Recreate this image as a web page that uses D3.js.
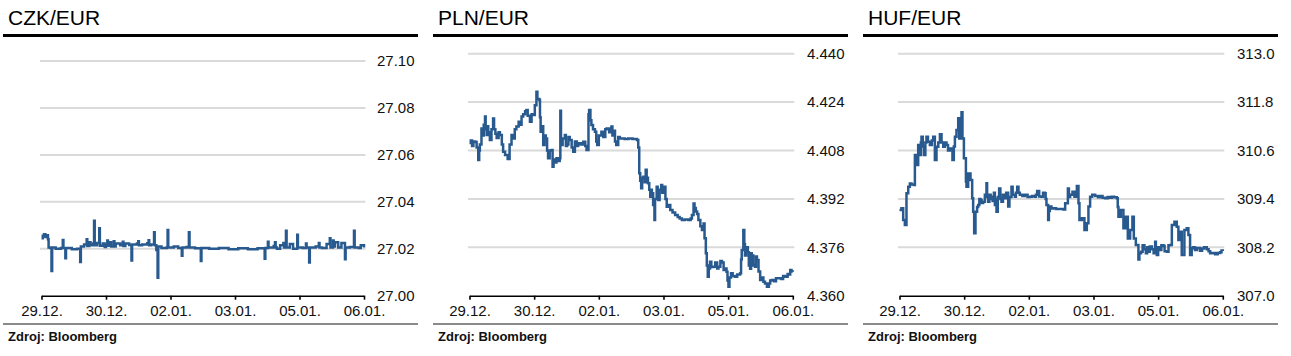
<!DOCTYPE html>
<html>
<head>
<meta charset="utf-8">
<script src="https://cdn.jsdelivr.net/npm/d3@7"></script>
<style>
  html, body { margin: 0; padding: 0; background: #fff; }
  svg { display: block; font-family: "Liberation Sans", Arial, sans-serif; }
</style>
</head>
<body>
<svg id="chart" width="1291" height="356"></svg>
<script>
// ---- data ----
const xTickLabels = ["29.12.", "30.12.", "02.01.", "03.01.", "05.01.", "06.01."];

const czkTicks = [27.00, 27.02, 27.04, 27.06, 27.08, 27.10];
const plnTicks = [4.360, 4.376, 4.392, 4.408, 4.424, 4.440];
const hufTicks = [307.0, 308.2, 309.4, 310.6, 311.8, 313.0];

// [trading-day position, rate]
const czkSeries = [
  [0.00,27.0245],[0.02,27.0255],[0.04,27.0262],[0.06,27.0250],[0.08,27.0258],[0.10,27.0240],[0.11,27.0205],
  [0.14,27.0203],[0.155,27.0105],[0.165,27.0205],[0.22,27.0200],[0.30,27.0203],[0.33,27.0237],[0.34,27.0203],
  [0.37,27.0160],[0.38,27.0203],[0.47,27.0198],[0.55,27.0200],[0.60,27.0144],[0.61,27.0210],[0.66,27.0218],
  [0.70,27.0240],[0.71,27.0212],[0.74,27.0228],[0.76,27.0215],[0.80,27.0222],[0.815,27.0319],[0.825,27.0215],
  [0.86,27.0225],[0.895,27.0287],[0.905,27.0213],[0.95,27.0222],[0.98,27.0208],[1.00,27.0215],[1.02,27.0235],
  [1.03,27.0213],[1.05,27.0228],[1.08,27.0210],[1.10,27.0212],[1.12,27.0232],[1.13,27.0210],[1.15,27.0222],
  [1.22,27.0215],[1.26,27.0230],[1.27,27.0212],[1.30,27.0222],[1.36,27.0216],[1.395,27.0150],[1.405,27.0218],
  [1.48,27.0222],[1.50,27.0232],[1.51,27.0215],[1.56,27.0218],[1.64,27.0224],[1.66,27.0236],[1.67,27.0215],
  [1.70,27.0218],[1.745,27.0270],[1.755,27.0215],[1.78,27.0195],[1.80,27.0077],[1.81,27.0210],[1.86,27.0203],
  [1.94,27.0205],[1.955,27.0280],[1.965,27.0205],[2.05,27.0210],[2.12,27.0203],[2.175,27.0170],[2.185,27.0205],
  [2.25,27.0208],[2.285,27.0270],[2.295,27.0205],[2.38,27.0202],[2.47,27.0148],[2.48,27.0203],[2.60,27.0200],
  [2.75,27.0203],[2.90,27.0198],[3.05,27.0202],[3.20,27.0198],[3.35,27.0202],[3.46,27.0157],[3.47,27.0203],
  [3.51,27.0230],[3.52,27.0205],[3.60,27.0212],[3.62,27.0228],[3.63,27.0205],[3.65,27.0200],[3.70,27.0215],
  [3.75,27.0225],[3.76,27.0205],[3.79,27.0277],[3.80,27.0205],[3.85,27.0220],[3.90,27.0200],[3.965,27.0260],
  [3.975,27.0205],[4.05,27.0203],[4.10,27.0222],[4.11,27.0205],[4.15,27.0141],[4.16,27.0205],[4.25,27.0210],
  [4.30,27.0225],[4.31,27.0205],[4.35,27.0203],[4.42,27.0220],[4.47,27.0245],[4.48,27.0205],[4.52,27.0235],
  [4.53,27.0210],[4.55,27.0228],[4.60,27.0205],[4.65,27.0225],[4.705,27.0155],[4.715,27.0205],[4.78,27.0208],
  [4.845,27.0277],[4.855,27.0205],[4.92,27.0203],[4.95,27.0215],[5.00,27.0205]
];

const plnSeries = [
  [0.00,4.4105],[0.02,4.4113],[0.04,4.4095],[0.06,4.4110],[0.09,4.4108],[0.11,4.4090],[0.135,4.4049],[0.15,4.4080],
  [0.16,4.4100],[0.185,4.4153],[0.20,4.4130],[0.22,4.4165],[0.24,4.4192],[0.25,4.4150],[0.265,4.4131],[0.28,4.4160],
  [0.29,4.4140],[0.315,4.4115],[0.34,4.4150],[0.365,4.4186],[0.38,4.4150],[0.40,4.4135],[0.42,4.4121],[0.45,4.4140],
  [0.47,4.4131],[0.50,4.4100],[0.52,4.4076],[0.55,4.4065],[0.59,4.4052],[0.62,4.4100],[0.65,4.4131],[0.68,4.4120],
  [0.70,4.4150],[0.725,4.4159],[0.76,4.4175],[0.78,4.4165],[0.805,4.4192],[0.83,4.4200],[0.86,4.4210],[0.88,4.4214],
  [0.90,4.4195],[0.935,4.4175],[0.96,4.4200],[0.985,4.4197],[1.01,4.4230],[1.035,4.4274],[1.05,4.4250],[1.08,4.4247],
  [1.09,4.4190],[1.10,4.4142],[1.12,4.4160],[1.14,4.4098],[1.16,4.4130],[1.18,4.4120],[1.20,4.4080],[1.215,4.4054],
  [1.24,4.4080],[1.27,4.4082],[1.285,4.4026],[1.30,4.4050],[1.32,4.4040],[1.345,4.4054],[1.37,4.4045],[1.395,4.4054],
  [1.405,4.4211],[1.415,4.4098],[1.44,4.4120],[1.475,4.4131],[1.49,4.4095],[1.51,4.4100],[1.53,4.4125],[1.55,4.4115],
  [1.58,4.4090],[1.605,4.4076],[1.63,4.4110],[1.66,4.4095],[1.68,4.4104],[1.72,4.4100],[1.76,4.4109],[1.79,4.4095],
  [1.81,4.4082],[1.84,4.4200],[1.85,4.4214],[1.87,4.4180],[1.885,4.4164],[1.91,4.4150],[1.94,4.4142],[1.96,4.4110],
  [1.975,4.4098],[2.00,4.4130],[2.04,4.4142],[2.07,4.4125],[2.10,4.4150],[2.12,4.4153],[2.16,4.4140],[2.195,4.4159],
  [2.21,4.4130],[2.23,4.4145],[2.25,4.4110],[2.27,4.4098],[2.30,4.4125],[2.325,4.4120],[2.40,4.4118],[2.455,4.4120],
  [2.52,4.4118],[2.59,4.4115],[2.61,4.4090],[2.625,4.4005],[2.64,4.3980],[2.655,4.3955],[2.67,4.3990],[2.69,4.3993],
  [2.71,4.3975],[2.725,4.4016],[2.74,4.3990],[2.76,4.3972],[2.78,4.3950],[2.795,4.3927],[2.81,4.3950],[2.82,4.3939],
  [2.84,4.3900],[2.86,4.3850],[2.87,4.3920],[2.895,4.3960],[2.91,4.3930],[2.92,4.3916],[2.94,4.3950],[2.965,4.3966],
  [2.98,4.3940],[3.00,4.3949],[3.015,4.3960],[3.03,4.3920],[3.05,4.3894],[3.08,4.3900],[3.105,4.3883],[3.14,4.3875],
  [3.18,4.3867],[3.22,4.3860],[3.25,4.3855],[3.285,4.3850],[3.33,4.3852],[3.385,4.3850],[3.42,4.3855],[3.44,4.3867],
  [3.465,4.3905],[3.48,4.3890],[3.50,4.3878],[3.52,4.3870],[3.54,4.3850],[3.57,4.3830],[3.595,4.3817],[3.62,4.3839],
  [3.635,4.3790],[3.655,4.3740],[3.67,4.3700],[3.685,4.3663],[3.70,4.3690],[3.72,4.3712],[3.74,4.3695],[3.77,4.3696],
  [3.80,4.3710],[3.83,4.3690],[3.85,4.3696],[3.88,4.3715],[3.905,4.3710],[3.93,4.3685],[3.95,4.3690],[3.975,4.3679],
  [3.99,4.3650],[4.005,4.3630],[4.02,4.3660],[4.045,4.3674],[4.07,4.3665],[4.105,4.3663],[4.14,4.3670],[4.185,4.3674],
  [4.20,4.3720],[4.21,4.3751],[4.235,4.3817],[4.25,4.3770],[4.26,4.3733],[4.28,4.3760],[4.305,4.3744],[4.32,4.3700],
  [4.34,4.3689],[4.355,4.3740],[4.365,4.3733],[4.39,4.3700],[4.415,4.3696],[4.43,4.3730],[4.445,4.3718],[4.47,4.3680],
  [4.495,4.3652],[4.52,4.3660],[4.545,4.3646],[4.57,4.3640],[4.60,4.3630],[4.63,4.3640],[4.65,4.3650],[4.675,4.3652],
  [4.71,4.3648],[4.74,4.3658],[4.78,4.3658],[4.82,4.3655],[4.85,4.3665],[4.88,4.3663],[4.92,4.3672],[4.94,4.3670],
  [4.96,4.3685],[4.98,4.3680],[5.00,4.3679]
];

const hufSeries = [
  [0.00,309.125],[0.03,309.17],[0.057,308.877],[0.083,308.753],[0.108,309.539],[0.135,309.703],[0.16,309.78],
  [0.186,309.76],[0.223,309.745],[0.238,310.49],[0.263,310.24],[0.289,310.737],[0.30,310.55],[0.315,310.49],
  [0.33,310.80],[0.34,310.94],[0.36,310.70],[0.377,310.49],[0.40,310.80],[0.417,310.94],[0.44,310.82],
  [0.47,310.737],[0.50,310.85],[0.521,310.94],[0.547,310.365],[0.572,310.69],[0.60,310.80],[0.625,311.00],
  [0.65,310.80],[0.676,310.69],[0.70,310.80],[0.727,310.737],[0.75,310.60],[0.779,310.65],[0.819,310.365],
  [0.84,310.70],[0.857,310.94],[0.881,311.11],[0.908,311.40],[0.923,310.90],[0.959,311.548],[0.974,310.90],
  [0.996,310.41],[1.027,309.83],[1.036,309.70],[1.062,310.03],[1.098,309.87],[1.124,309.415],[1.139,309.08],
  [1.155,308.547],[1.175,309.08],[1.20,309.20],[1.217,309.25],[1.235,309.40],[1.252,309.37],[1.27,309.30],
  [1.294,309.33],[1.32,309.50],[1.345,309.787],[1.355,309.45],[1.371,309.33],[1.39,309.50],[1.41,309.40],
  [1.422,309.455],[1.44,309.35],[1.46,309.55],[1.475,309.25],[1.49,309.40],[1.50,309.08],[1.52,309.45],
  [1.541,309.66],[1.56,309.40],[1.577,309.33],[1.60,309.50],[1.63,309.415],[1.65,309.55],[1.681,309.21],
  [1.70,309.45],[1.732,309.70],[1.75,309.50],[1.784,309.455],[1.80,309.55],[1.82,309.70],[1.84,309.55],
  [1.861,309.50],[1.90,309.47],[1.939,309.50],[1.98,309.45],[2.016,309.455],[2.05,309.47],[2.093,309.455],
  [2.11,309.50],[2.129,309.596],[2.16,309.46],[2.195,309.455],[2.22,309.55],[2.248,309.54],[2.26,309.40],
  [2.273,309.25],[2.299,308.877],[2.31,309.10],[2.325,309.21],[2.35,309.16],[2.376,309.17],[2.42,309.15],
  [2.48,309.15],[2.536,309.14],[2.562,309.29],[2.604,309.66],[2.62,309.45],[2.639,309.50],[2.675,309.58],
  [2.706,309.455],[2.743,309.72],[2.768,309.29],[2.783,308.877],[2.82,308.92],[2.86,308.63],[2.897,308.795],
  [2.922,309.21],[2.948,309.455],[2.98,309.50],[3.026,309.47],[3.07,309.44],[3.10,309.47],[3.14,309.43],
  [3.18,309.415],[3.22,309.45],[3.25,309.43],[3.284,309.455],[3.32,309.44],[3.361,309.415],[3.375,309.20],
  [3.386,308.96],[3.423,309.125],[3.463,308.67],[3.50,308.96],[3.531,308.42],[3.567,308.63],[3.602,308.96],
  [3.624,308.42],[3.655,308.257],[3.695,307.90],[3.71,308.05],[3.737,308.09],[3.76,308.25],[3.788,308.15],
  [3.81,308.05],[3.83,308.20],[3.85,308.09],[3.87,308.22],[3.903,308.15],[3.93,308.05],[3.954,308.34],
  [3.965,308.15],[3.98,308.01],[4.00,308.20],[4.031,308.133],[4.05,308.25],[4.082,308.23],[4.10,308.10],
  [4.135,308.09],[4.16,308.25],[4.186,308.257],[4.212,308.75],[4.252,308.835],[4.288,308.71],[4.313,308.38],
  [4.339,308.587],[4.365,308.01],[4.406,308.63],[4.442,308.67],[4.468,308.505],[4.494,308.01],[4.519,308.175],
  [4.54,308.20],[4.57,308.133],[4.60,308.18],[4.647,308.115],[4.68,308.17],[4.71,308.20],[4.752,308.15],
  [4.78,308.10],[4.804,308.05],[4.84,308.06],[4.881,308.03],[4.92,308.06],[4.958,308.08],[4.98,308.12],[5.00,308.11]
];

// ---- layout ----
const panels = [
  { title: "CZK/EUR", series: czkSeries, ticks: czkTicks, fmt: d3.format(".2f"), ox: 0,   yTop: 61,   xr: [41.5, 364] },
  { title: "PLN/EUR", series: plnSeries, ticks: plnTicks, fmt: d3.format(".3f"), ox: 430, yTop: 53.7, xr: [39.5, 362.8] },
  { title: "HUF/EUR", series: hufSeries, ticks: hufTicks, fmt: d3.format(".1f"), ox: 860, yTop: 53.7, xr: [39.5, 362.8] }
];

const svg = d3.select("#chart");
const lineColor = "#285a8f";
const yBottom = 295.7;

panels.forEach(p => {
  const g = svg.append("g").attr("transform", `translate(${p.ox},0)`);

  // title
  g.append("text").attr("x", 8).attr("y", 25).attr("font-size", 21).attr("fill", "#000").text(p.title);
  // thick rule
  g.append("line").attr("x1", 3).attr("x2", 418).attr("y1", 35.5).attr("y2", 35.5)
    .attr("stroke", "#000").attr("stroke-width", 3);

  const x = d3.scaleLinear().domain([0, 5]).range(p.xr);
  const y = d3.scaleLinear().domain([p.ticks[0], p.ticks[p.ticks.length - 1]]).range([yBottom, p.yTop]);

  // gridlines
  g.append("g").selectAll("line").data(p.ticks.slice(1)).join("line")
    .attr("x1", p.xr[0] - 1.5).attr("x2", p.xr[1] + 1.5)
    .attr("y1", d => y(d)).attr("y2", d => y(d))
    .attr("stroke", "#dadada").attr("stroke-width", 2);

  // y labels on the right
  const yAxis = g.append("g").attr("transform", "translate(377,0)")
    .call(d3.axisRight(y).tickValues(p.ticks).tickFormat(p.fmt).tickSize(0).tickPadding(0));
  yAxis.select(".domain").remove();
  yAxis.selectAll("text").attr("font-size", 15).attr("fill", "#111").attr("font-family", "Liberation Sans, Arial, sans-serif");

  // line
  const line = d3.line().curve(d3.curveStepAfter).x(d => x(d[0])).y(d => y(d[1]));
  g.append("path").datum(p.series).attr("d", line)
    .attr("fill", "none").attr("stroke", lineColor).attr("stroke-width", 2.5).attr("stroke-linejoin", "miter");

  // x axis
  const xAxis = g.append("g").attr("transform", `translate(0,${yBottom})`)
    .call(d3.axisBottom(x).tickValues([0, 1, 2, 3, 4, 5]).tickFormat(i => xTickLabels[i])
      .tickSize(4).tickSizeOuter(0).tickPadding(6));
  xAxis.select(".domain").attr("stroke", "#000").attr("stroke-width", 1.6);
  xAxis.selectAll(".tick line").attr("stroke", "#000").attr("stroke-width", 1.6);
  xAxis.selectAll("text").attr("font-size", 15).attr("fill", "#111").attr("font-family", "Liberation Sans, Arial, sans-serif");

  // bottom rule + source
  g.append("line").attr("x1", 3).attr("x2", 418).attr("y1", 324).attr("y2", 324)
    .attr("stroke", "#8a8a8a").attr("stroke-width", 1.8);
  g.append("text").attr("x", 8).attr("y", 341).attr("font-size", 13).attr("fill", "#111")
    .attr("font-weight", "bold").text("Zdroj: Bloomberg");
});
</script>
</body>
</html>
